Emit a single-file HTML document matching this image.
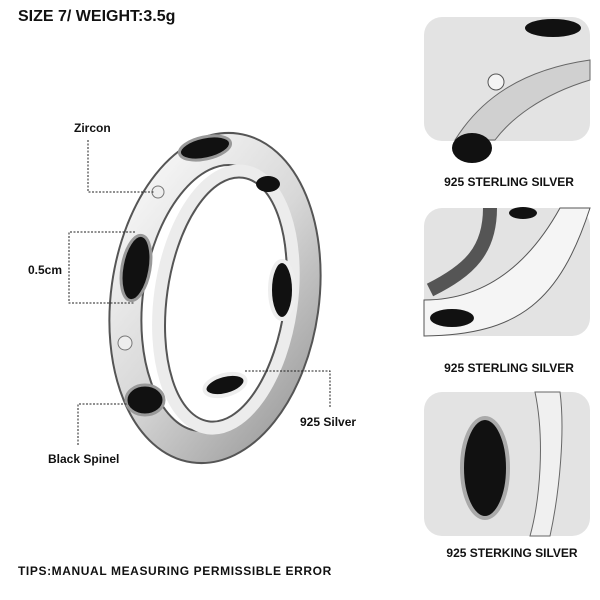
<!DOCTYPE html>
<html><head><style>
body{margin:0;background:#fff;width:600px;height:600px;overflow:hidden}
svg{display:block}
text{font-family:"Liberation Sans",sans-serif;font-weight:bold;fill:#111}
</style></head><body>
<svg width="600" height="600" viewBox="0 0 600 600">
<defs>
<linearGradient id="sil" x1="0" y1="0" x2="1" y2="1">
<stop offset="0" stop-color="#fafafa"/><stop offset=".5" stop-color="#d8d8d8"/><stop offset="1" stop-color="#9a9a9a"/>
</linearGradient>
</defs>
<text x="18" y="21" font-size="16">SIZE 7/ WEIGHT:3.5g</text>
<g transform="rotate(8 215 298)">
<ellipse cx="215" cy="298" rx="88" ry="150" fill="none" stroke="#555" stroke-width="34"/>
<ellipse cx="215" cy="298" rx="88" ry="150" fill="none" stroke="url(#sil)" stroke-width="30"/>
<ellipse cx="226" cy="298" rx="66" ry="130" fill="none" stroke="#ececec" stroke-width="12"/>
<ellipse cx="226" cy="298" rx="59" ry="123" fill="none" stroke="#555" stroke-width="2"/>
</g>
<ellipse cx="205" cy="148" rx="26" ry="11" fill="#111" stroke="#999" stroke-width="3" transform="rotate(-12 205 148)"/>
<ellipse cx="136" cy="268" rx="14" ry="33" fill="#111" stroke="#999" stroke-width="3" transform="rotate(10 136 268)"/>
<ellipse cx="145" cy="400" rx="19" ry="15" fill="#111" stroke="#999" stroke-width="3"/>
<ellipse cx="282" cy="290" rx="12" ry="29" fill="#111" stroke="#eee" stroke-width="4"/>
<ellipse cx="225" cy="385" rx="21" ry="10" fill="#111" stroke="#eee" stroke-width="4" transform="rotate(-15 225 385)"/>
<ellipse cx="268" cy="184" rx="12" ry="8" fill="#111"/>
<circle cx="158" cy="192" r="6" fill="#eee" stroke="#777"/>
<circle cx="125" cy="343" r="7" fill="#eee" stroke="#777"/>
<g stroke="#222" stroke-width="1" stroke-dasharray="2,1.5" fill="none">
<path d="M88 140V192H155"/>
<path d="M135 232H69V303H135"/>
<path d="M130 404H78V445"/>
<path d="M245 371H330V407"/>
</g>
<text x="74" y="132" font-size="12">Zircon</text>
<text x="28" y="274" font-size="12">0.5cm</text>
<text x="48" y="463" font-size="12">Black Spinel</text>
<text x="300" y="426" font-size="12">925 Silver</text>
<rect x="424" y="17" width="166" height="124" rx="18" fill="#e3e3e3"/>
<rect x="424" y="208" width="166" height="128" rx="18" fill="#e3e3e3"/>
<rect x="424" y="392" width="166" height="144" rx="18" fill="#e3e3e3"/>
<path d="M455 140C480 100 520 70 590 60V80C540 95 510 120 495 140Z" fill="#d0d0d0" stroke="#666"/>
<ellipse cx="553" cy="28" rx="28" ry="9" fill="#111"/>
<ellipse cx="472" cy="148" rx="20" ry="15" fill="#111"/>
<circle cx="496" cy="82" r="8" fill="#f4f4f4" stroke="#555"/>
<path d="M424 300C470 300 520 280 560 208H590C560 300 520 335 424 336Z" fill="#f5f5f5" stroke="#555"/>
<path d="M490 208C490 250 470 270 430 290" fill="none" stroke="#555" stroke-width="14"/>
<ellipse cx="452" cy="318" rx="22" ry="9" fill="#111"/>
<ellipse cx="523" cy="213" rx="14" ry="6" fill="#111"/>
<ellipse cx="485" cy="468" rx="23" ry="50" fill="#111" stroke="#aaa" stroke-width="4"/>
<path d="M535 392C545 440 540 500 530 536H550C560 490 565 430 560 392Z" fill="#f0f0f0" stroke="#666"/>
<text x="509" y="186" font-size="12" text-anchor="middle">925 STERLING SILVER</text>
<text x="509" y="372" font-size="12" text-anchor="middle">925 STERLING SILVER</text>
<text x="512" y="557" font-size="12" text-anchor="middle">925 STERKING SILVER</text>
<text x="18" y="575" font-size="12" letter-spacing="0.6">TIPS:MANUAL MEASURING PERMISSIBLE  ERROR</text>
</svg>
</body></html>
